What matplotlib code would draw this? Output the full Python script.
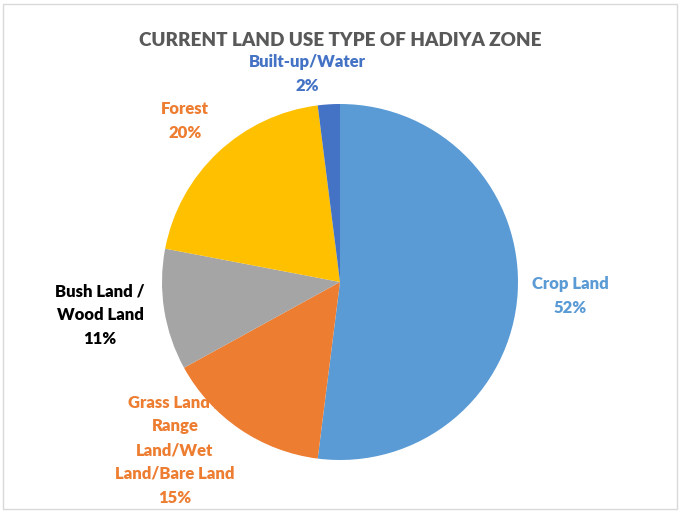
import matplotlib
matplotlib.use("Agg")
import matplotlib.pyplot as plt
from matplotlib.patches import Rectangle

categories = ["Crop Land", "Grass Land /\nRange\nLand/Wet\nLand/Bare Land", "Bush Land /\nWood Land", "Forest", "Built-up/Water"]
values = [52, 15, 11, 20, 2]
colors = ["#5B9BD5", "#ED7D31", "#A5A5A5", "#FFC000", "#4472C4"]
label_colors = ["#5B9BD5", "#ED7D31", "#000000", "#ED7D31", "#4472C4"]
title = "CURRENT LAND USE TYPE OF HADIYA ZONE"

W, H = 680, 512
fig = plt.figure(figsize=(W / 100, H / 100), dpi=100)
fig.patch.set_facecolor("white")
fig.patches.append(Rectangle((3 / W, 3 / H), 674 / W, 505 / H, transform=fig.transFigure,
                             fill=False, edgecolor="#D9D9D9", linewidth=1))

cx, cy, r = 340, 282, 178
ax = fig.add_axes([(cx - r) / W, (H - cy - r) / H, 2 * r / W, 2 * r / H])
ax.pie(values, colors=colors, startangle=90, counterclock=False,
       wedgeprops=dict(linewidth=0))
ax.set_xlim(-1, 1)
ax.set_ylim(-1, 1)
ax.set_aspect("equal")
ax.axis("off")

font = "Lato"
fig.text(cx / W, 1 - 40 / H, title, ha="center", va="center", fontsize=13.6,
         fontweight="heavy", color="#595959", family=font)

label_pos = [(570, 296), (175, 450), (100, 315), (185, 121), (307, 74)]
for cat, v, (x, y), c in zip(categories, values, label_pos, label_colors):
    fig.text(x / W, 1 - y / H, f"{cat}\n{v}%", ha="center", va="center", fontsize=12,
             fontweight="heavy", color=c, family=font, linespacing=1.6)

fig.savefig("out.png", dpi=100, facecolor="white")
